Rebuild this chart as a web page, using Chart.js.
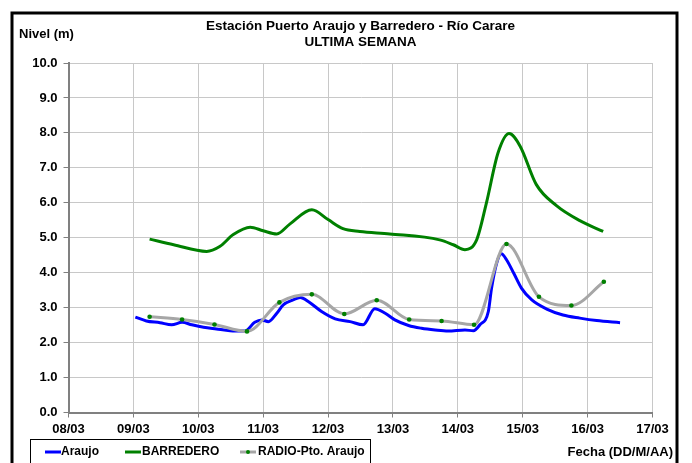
<!DOCTYPE html>
<html>
<head>
<meta charset="utf-8">
<script src="https://cdn.jsdelivr.net/npm/chart.js@4"></script>
<style>
  html, body { margin: 0; padding: 0; background: #fff; }
  #wrap { width: 692px; height: 463px; }
</style>
</head>
<body>
<div id="wrap"><canvas id="nivelChart" width="692" height="463"></canvas></div>
<script>
// datos (dias de marzo, nivel en m)
const araujoDays = [9.03, 9.2, 9.41, 9.59, 9.75, 9.9, 10.08, 10.28, 10.49, 10.72, 10.87, 10.98, 11.08, 11.21, 11.31, 11.46, 11.57, 11.7, 11.9, 12.11, 12.34, 12.54, 12.72, 12.88, 13.03, 13.24, 13.44, 13.65, 13.85, 14.11, 14.24, 14.34, 14.47, 14.52, 14.6, 14.67, 14.75, 14.86, 14.98, 15.14, 15.37, 15.62, 15.88, 16.14, 16.5];
const araujoLevels = [2.73, 2.62, 2.57, 2.51, 2.58, 2.51, 2.44, 2.39, 2.34, 2.33, 2.58, 2.65, 2.6, 2.84, 3.08, 3.22, 3.29, 3.17, 2.89, 2.68, 2.6, 2.51, 2.97, 2.84, 2.65, 2.49, 2.41, 2.36, 2.33, 2.36, 2.34, 2.51, 2.89, 3.56, 4.28, 4.54, 4.37, 3.99, 3.56, 3.22, 2.96, 2.79, 2.7, 2.63, 2.57];

const barrederoDays = [9.25, 9.62, 10.13, 10.33, 10.54, 10.8, 11.0, 11.21, 11.41, 11.75, 12.0, 12.23, 12.49, 12.95, 13.72, 13.93, 14.11, 14.29, 14.44, 14.62, 14.79, 14.96, 15.21, 15.52, 15.88, 16.24];
const barrederoLevels = [4.96, 4.8, 4.61, 4.75, 5.09, 5.3, 5.2, 5.11, 5.39, 5.8, 5.52, 5.26, 5.18, 5.11, 4.94, 4.8, 4.66, 4.94, 5.99, 7.43, 7.98, 7.62, 6.52, 5.92, 5.49, 5.18];

const radioDays = [9.25, 9.75, 10.25, 10.75, 11.25, 11.75, 12.25, 12.75, 13.25, 13.75, 14.25, 14.75, 15.25, 15.75, 16.25];
const radioLevels = [2.74, 2.66, 2.52, 2.32, 3.15, 3.38, 2.82, 3.21, 2.66, 2.62, 2.51, 4.82, 3.31, 3.06, 3.74];

const seriesNames = ["Araujo", "BARREDERO", "RADIO-Pto. Araujo"];
const seriesColors = ["#0000ff", "#008000", "#a6a6a6"];

const titleLines = ["Estación Puerto Araujo y Barredero - Río Carare", "ULTIMA SEMANA"];
const yAxisLabel = "Nivel (m)";
const xAxisLabel = "Fecha (DD/M/AA)";

const FONT = "'Liberation Sans', Arial, sans-serif";

const toPoints = (days, levels) => days.map((d, i) => ({ x: d, y: levels[i] }));

// marco, titulos y leyenda dibujados a mano
const decorPlugin = {
   id: "decor",
   afterDraw(chart) {
      const ctx = chart.ctx;
      const area = chart.chartArea;
      ctx.save();

      // marco exterior
      ctx.strokeStyle = "#000";
      ctx.lineWidth = 3;
      ctx.strokeRect(12, 13, 665, 470);

      // titulo
      ctx.fillStyle = "#000";
      ctx.font = "bold 13.5px " + FONT;
      ctx.textAlign = "center";
      ctx.textBaseline = "middle";
      const cx = (area.left + area.right) / 2;
      ctx.fillText(titleLines[0], cx, 26);
      ctx.fillText(titleLines[1], cx, 42);

      // etiqueta eje y
      ctx.font = "bold 13px " + FONT;
      ctx.textAlign = "left";
      ctx.fillText(yAxisLabel, 19, 34);

      // etiqueta eje x
      ctx.textAlign = "right";
      ctx.fillText(xAxisLabel, 673, 452);

      // caja de leyenda
      ctx.strokeStyle = "#000";
      ctx.lineWidth = 1;
      ctx.strokeRect(30.5, 439.5, 340, 40);

      const items = [
         { sx: 45, tx: 61 },
         { sx: 125, tx: 142 },
         { sx: 240, tx: 258 },
      ];
      ctx.font = "bold 12px " + FONT;
      ctx.textAlign = "left";
      items.forEach((it, i) => {
         ctx.strokeStyle = seriesColors[i];
         ctx.lineWidth = 3;
         ctx.beginPath();
         ctx.moveTo(it.sx, 452);
         ctx.lineTo(it.sx + 16, 452);
         ctx.stroke();
         if (i === 2) {
            ctx.fillStyle = "#008000";
            ctx.beginPath();
            ctx.arc(it.sx + 8, 452, 2, 0, Math.PI * 2);
            ctx.fill();
         }
         ctx.fillStyle = "#000";
         ctx.fillText(seriesNames[i], it.tx, 452);
      });

      ctx.restore();
   },
};

const canvas = document.getElementById("nivelChart");
const ctx = canvas.getContext("2d");

new Chart(ctx, {
   type: "line",
   data: {
      datasets: [
         {
            label: seriesNames[0],
            data: toPoints(araujoDays, araujoLevels),
            borderColor: seriesColors[0],
            borderWidth: 3,
            pointRadius: 0,
            cubicInterpolationMode: "monotone",
            order: 1,
         },
         {
            label: seriesNames[1],
            data: toPoints(barrederoDays, barrederoLevels),
            borderColor: seriesColors[1],
            borderWidth: 3,
            pointRadius: 0,
            cubicInterpolationMode: "monotone",
            order: 2,
         },
         {
            label: seriesNames[2],
            data: toPoints(radioDays, radioLevels),
            borderColor: seriesColors[2],
            borderWidth: 3,
            pointRadius: 2.3,
            pointBorderWidth: 0,
            pointBackgroundColor: "#008000",
            cubicInterpolationMode: "monotone",
            order: 0,
         },
      ],
   },
   options: {
      responsive: false,
      animation: false,
      devicePixelRatio: 1,
      layout: { padding: { left: 13, right: 39.5, top: 63, bottom: 24.5 } },
      plugins: {
         legend: { display: false },
         title: { display: false },
         tooltip: { enabled: false },
      },
      scales: {
         x: {
            type: "linear",
            min: 8,
            max: 17,
            afterFit: (scale) => { scale.height = 26; },
            ticks: {
               stepSize: 1,
               padding: 4,
               color: "#000",
               font: { family: FONT, size: 13, weight: "bold" },
               callback: (v) => String(Math.round(v)).padStart(2, "0") + "/03",
            },
            grid: { color: "#c8c8c8", tickColor: "#808080", tickLength: 5 },
            border: { color: "#808080", width: 2 },
         },
         y: {
            min: 0,
            max: 10,
            afterFit: (scale) => { scale.width = 55.5; },
            ticks: {
               stepSize: 1,
               padding: 6,
               color: "#000",
               font: { family: FONT, size: 13, weight: "bold" },
               callback: (v) => Number(v).toFixed(1),
            },
            grid: { color: "#c8c8c8", tickColor: "#808080", tickLength: 5 },
            border: { color: "#808080", width: 2 },
         },
      },
   },
   plugins: [decorPlugin],
});
</script>
</body>
</html>
